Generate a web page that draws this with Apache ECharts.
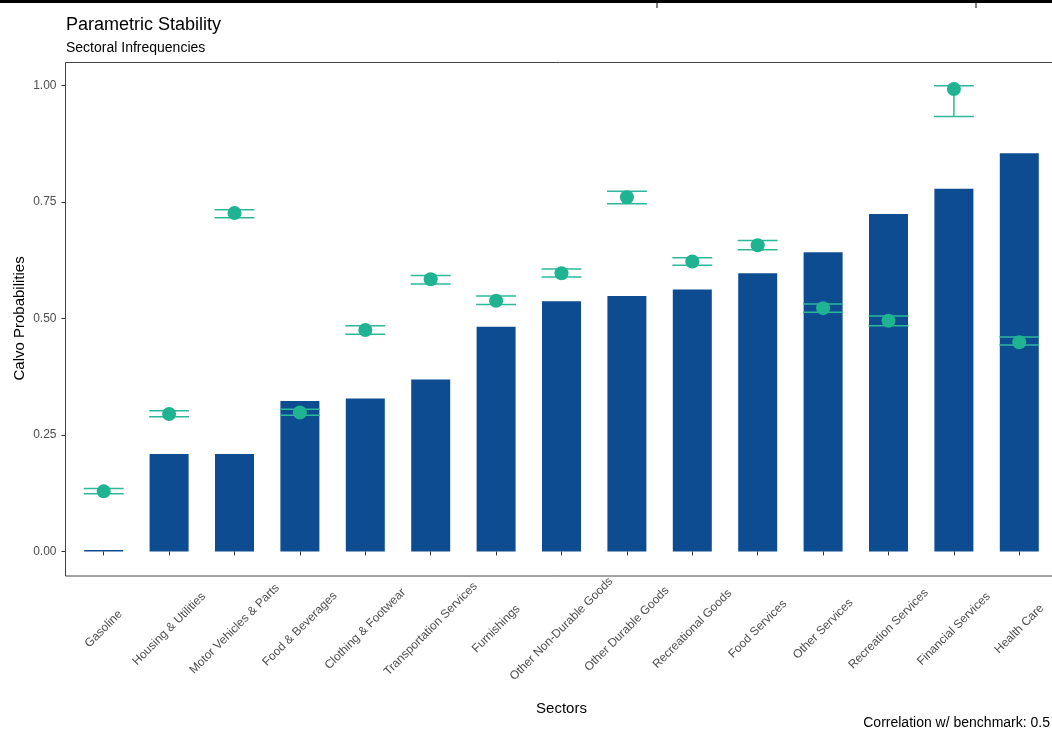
<!DOCTYPE html>
<html>
<head>
<meta charset="utf-8">
<script src="https://cdn.jsdelivr.net/npm/echarts@6/dist/echarts.min.js"></script>
<style>
html,body{margin:0;padding:0;background:#fff;}
#chart{width:1052px;height:731px;}
</style>
</head>
<body>
<div id="chart"></div>
<script>
const categories = ["Gasoline","Housing & Utilities","Motor Vehicles & Parts","Food & Beverages","Clothing & Footwear","Transportation Services","Furnishings","Other Non-Durable Goods","Other Durable Goods","Recreational Goods","Food Services","Other Services","Recreation Services","Financial Services","Health Care"];
const barValues   = [0.003, 0.209, 0.209, 0.323, 0.328, 0.369, 0.482, 0.537, 0.548, 0.562, 0.597, 0.642, 0.724, 0.778, 0.854];
const pointValues = [0.129, 0.295, 0.726, 0.298, 0.475, 0.584, 0.538, 0.597, 0.760, 0.622, 0.657, 0.522, 0.495, 0.992, 0.449];
const lowerValues = [0.124, 0.289, 0.716, 0.292, 0.466, 0.574, 0.530, 0.589, 0.746, 0.614, 0.647, 0.513, 0.484, 0.933, 0.443];
const upperValues = [0.135, 0.302, 0.733, 0.305, 0.484, 0.592, 0.548, 0.606, 0.773, 0.630, 0.667, 0.531, 0.505, 0.999, 0.460];
const yTicks = [0, 0.25, 0.5, 0.75, 1.0];

const barColor = '#0E4C92';
const pointColor = '#1FB391';
const errColor = '#2DB89C';
const FONT = '"Liberation Sans", Arial, Helvetica, sans-serif';

const chart = echarts.init(document.getElementById('chart'), null, {renderer: 'canvas'});

function renderErr(params, api) {
  const idx = api.value(0);
  const lo = api.value(1), hi = api.value(2);
  const pLo = api.coord([idx, lo]);
  const pHi = api.coord([idx, hi]);
  const w = api.size([1, 0])[0] * 0.61 / 2;
  const style = {stroke: errColor, lineWidth: 1.5, fill: null};
  return {
    type: 'group',
    children: [
      {type: 'line', shape: {x1: pHi[0] - w, y1: pHi[1], x2: pHi[0] + w, y2: pHi[1]}, style: style},
      {type: 'line', shape: {x1: pLo[0] - w, y1: pLo[1], x2: pLo[0] + w, y2: pLo[1]}, style: style},
      {type: 'line', shape: {x1: pHi[0], y1: pHi[1], x2: pLo[0], y2: pLo[1]}, style: style}
    ]
  };
}

const option = {
  animation: false,
  backgroundColor: '#ffffff',
  textStyle: {fontFamily: FONT},
  title: [
    {text: 'Parametric Stability', left: 61, top: 11,
     textStyle: {fontFamily: FONT, fontSize: 18, fontWeight: 'normal', color: '#000'}},
    {text: 'Sectoral Infrequencies', left: 61, top: 36,
     textStyle: {fontFamily: FONT, fontSize: 14, fontWeight: 'normal', color: '#000'}},
    {text: 'Correlation w/ benchmark: 0.5', right: -3, top: 711,
     textStyle: {fontFamily: FONT, fontSize: 14, fontWeight: 'normal', color: '#000'}}
  ],
  graphic: [
    {type: 'rect', shape: {x: 0, y: 0, width: 1052, height: 3}, style: {fill: '#000'}, z: 100},
    {type: 'line', shape: {x1: 657, y1: 0, x2: 657, y2: 8}, style: {stroke: '#000', lineWidth: 1}, z: 100},
    {type: 'line', shape: {x1: 976, y1: 0, x2: 976, y2: 8}, style: {stroke: '#000', lineWidth: 1}, z: 100},
    {type: 'rect', shape: {x: 65.5, y: 62.5, width: 1000, height: 513.5},
     style: {fill: null, stroke: '#444', lineWidth: 1}, z: 50, silent: true}
  ],
  grid: {left: 71, right: -1, top: 85.3, bottom: 179.5, containLabel: false},
  xAxis: {
    type: 'category',
    data: categories,
    offset: 24.5,
    axisLine: {show: false},
    axisTick: {show: true, alignWithLabel: true, length: 4, lineStyle: {color: '#333'}},
    axisLabel: {interval: 0, rotate: 45, fontSize: 12, color: '#4d4d4d', margin: 53,
      align: 'center', verticalAlign: 'middle', fontFamily: FONT},
    splitLine: {show: false},
    name: 'Sectors',
    nameLocation: 'middle',
    nameGap: 125,
    nameTextStyle: {fontSize: 15, color: '#000', fontFamily: FONT}
  },
  yAxis: {
    type: 'value',
    min: 0, max: 1, interval: 0.25,
    offset: 5.5,
    axisLine: {show: false},
    axisTick: {show: true, length: 4, lineStyle: {color: '#333'}},
    axisLabel: {fontSize: 12, color: '#4d4d4d', margin: 9, fontFamily: FONT,
      formatter: function (v) { return yTicks.indexOf(v) >= 0 ? v.toFixed(2) : ''; }},
    splitLine: {show: false},
    name: 'Calvo Probabilities',
    nameLocation: 'middle',
    nameGap: 38,
    nameMoveOverlap: false,
    nameTextStyle: {fontSize: 15, color: '#000', fontFamily: FONT}
  },
  series: [
    {
      type: 'bar',
      data: barValues,
      barWidth: 39,
      itemStyle: {color: barColor},
      z: 2
    },
    {
      type: 'custom',
      renderItem: renderErr,
      data: categories.map(function (c, i) { return [i, lowerValues[i], upperValues[i]]; }),
      encode: {x: 0, y: [1, 2]},
      z: 3
    },
    {
      type: 'scatter',
      data: pointValues,
      symbol: 'circle',
      symbolSize: 14,
      itemStyle: {color: pointColor, opacity: 1},
      z: 4
    }
  ]
};
chart.setOption(option);
</script>
</body>
</html>
